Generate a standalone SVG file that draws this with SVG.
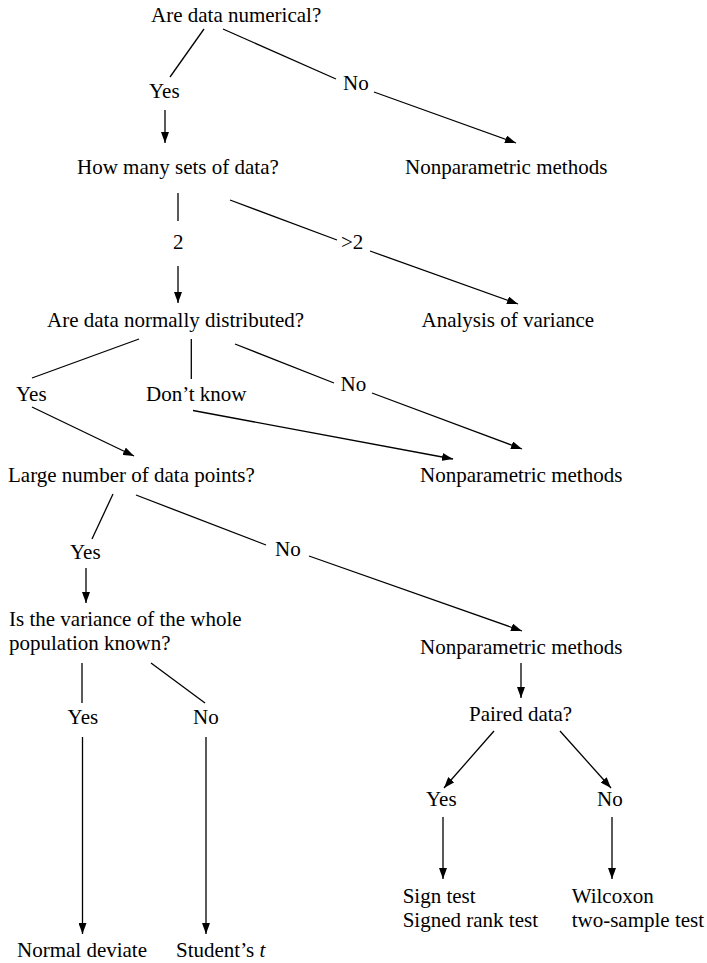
<svg xmlns="http://www.w3.org/2000/svg" width="707" height="963" viewBox="0 0 707 963">
<style>
text{font-family:"Liberation Serif","Times New Roman",serif;font-size:21px;fill:#000}
.c line{stroke:#000;stroke-width:1.3;fill:none}
.c .a{marker-end:url(#ah)}
</style>
<defs>
<marker id="ah" markerUnits="userSpaceOnUse" markerWidth="11" markerHeight="8" refX="11" refY="4" orient="auto">
<path d="M0,0 L11,4 L0,8 z" fill="#000"/>
</marker>
</defs>
<rect width="707" height="963" fill="#fff"/>
<g class="c" id="connectors">
<line x1="204" y1="29" x2="170" y2="77"/>
<line class="a" x1="165" y1="110" x2="165" y2="143"/>
<line x1="223" y1="29" x2="336" y2="79"/>
<line class="a" x1="374" y1="92" x2="516" y2="143"/>
<line x1="178" y1="193" x2="178" y2="221"/>
<line class="a" x1="178" y1="266" x2="178" y2="303"/>
<line x1="230" y1="200" x2="337" y2="240"/>
<line class="a" x1="370" y1="251" x2="518" y2="304"/>
<line x1="139" y1="339" x2="32" y2="378"/>
<line x1="191.3" y1="339" x2="191.3" y2="379"/>
<line x1="235" y1="344" x2="334" y2="383"/>
<line class="a" x1="372" y1="393" x2="522" y2="449"/>
<line class="a" x1="193" y1="410.5" x2="453" y2="459"/>
<line class="a" x1="32" y1="407" x2="134" y2="456"/>
<line x1="113" y1="494" x2="92" y2="539"/>
<line x1="136" y1="495" x2="266" y2="545"/>
<line class="a" x1="86" y1="568" x2="86" y2="603"/>
<line class="a" x1="309" y1="556" x2="522" y2="631"/>
<line x1="82" y1="663" x2="82" y2="703"/>
<line x1="151" y1="663" x2="205" y2="703"/>
<line class="a" x1="521" y1="663" x2="521" y2="698"/>
<line class="a" x1="82.5" y1="737" x2="82.5" y2="934"/>
<line class="a" x1="206" y1="737" x2="206" y2="934"/>
<line class="a" x1="494" y1="731" x2="444" y2="788"/>
<line class="a" x1="560" y1="731" x2="611" y2="788"/>
<line class="a" x1="443" y1="817" x2="443" y2="879"/>
<line class="a" x1="612" y1="817" x2="612" y2="879"/>
</g>
<g id="n1"><text x="151" y="22">Are data numerical?</text></g>
<g id="l1"><text x="149" y="98">Yes</text></g>
<g id="l2"><text x="343" y="90">No</text></g>
<g id="n2"><text x="77" y="174">How many sets of data?</text></g>
<g id="n3"><text x="405" y="174">Nonparametric methods</text></g>
<g id="l3"><text x="173" y="249">2</text></g>
<g id="l4"><text x="341" y="249">&gt;2</text></g>
<g id="n4"><text x="47" y="327">Are data normally distributed?</text></g>
<g id="n5"><text x="421.5" y="327">Analysis of variance</text></g>
<g id="l5"><text x="16" y="401">Yes</text></g>
<g id="l6"><text x="146" y="401">Don’t know</text></g>
<g id="l7"><text x="340.5" y="391">No</text></g>
<g id="n6"><text x="8" y="482">Large number of data points?</text></g>
<g id="n7"><text x="420" y="482">Nonparametric methods</text></g>
<g id="l8"><text x="70" y="559">Yes</text></g>
<g id="l9"><text x="275" y="556">No</text></g>
<g id="n8"><text x="9" y="626">Is the variance of the whole</text><text x="9" y="650">population known?</text></g>
<g id="n9"><text x="420" y="654">Nonparametric methods</text></g>
<g id="n10"><text x="469" y="721">Paired data?</text></g>
<g id="l10"><text x="67.6" y="724">Yes</text></g>
<g id="l11"><text x="193" y="724">No</text></g>
<g id="l12"><text x="426" y="806">Yes</text></g>
<g id="l13"><text x="597" y="806">No</text></g>
<g id="n11"><text x="402.7" y="903">Sign test</text><text x="402.7" y="927">Signed rank test</text></g>
<g id="n12"><text x="571.7" y="903">Wilcoxon</text><text x="571.7" y="927">two-sample test</text></g>
<g id="n13"><text x="17" y="957">Normal deviate</text></g>
<g id="n14"><text x="176" y="957">Student’s <tspan font-style="italic">t</tspan></text></g>
</svg>
